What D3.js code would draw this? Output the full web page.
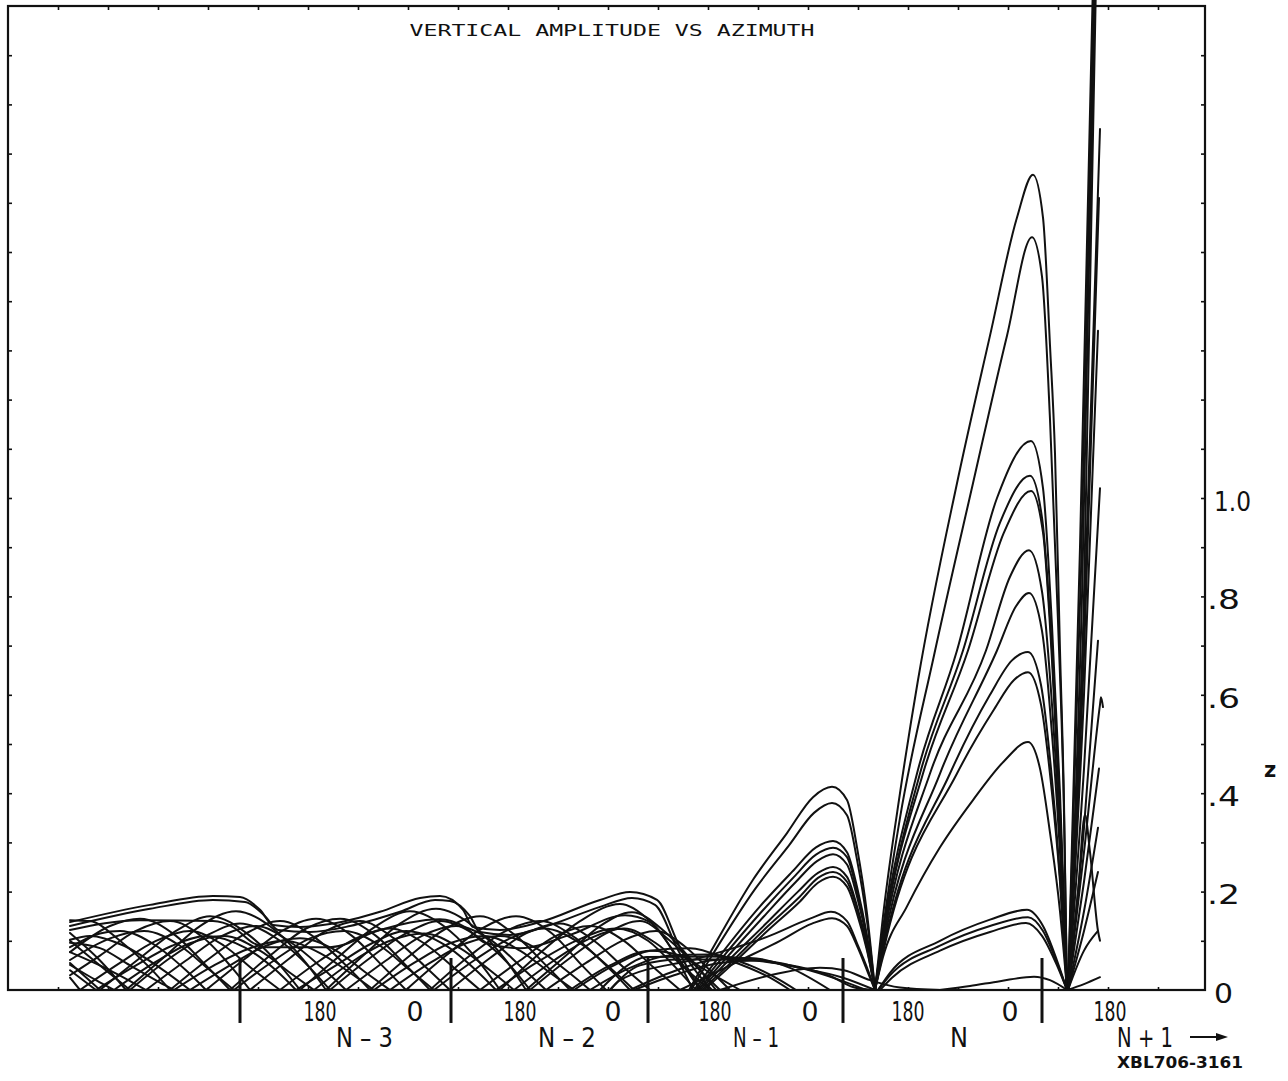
<!DOCTYPE html>
<html>
<head>
<meta charset="utf-8">
<script src="https://d3js.org/d3.v7.min.js"></script>
<style>
  body { margin: 0; background: white; }
  svg { display: block; background: white; }
  .curve { fill: none; stroke: #111; stroke-width: 2; stroke-linejoin: round; stroke-linecap: round; }
  .tick line { stroke: #111; stroke-width: 1.6; }
  .lbl { font-family: "DejaVu Sans", sans-serif; fill: #111; }
</style>
</head>
<body>
<div id="chart"></div>
<script>
var W = 1288, H = 1081;
var frame = {left: 8, right: 1205, top: 6, bottom: 990};

// x: azimuth in revolutions (one turn per section), y: vertical amplitude z
var revDomain = [0.04, 6.025];
var zDomain = [0, 2.0];

var sectionEdges = [1.20, 2.255, 3.24, 4.215, 5.21];
var label180Pos = [1.60, 2.60, 3.575, 4.54, 5.55];
var label0Pos = [2.075, 3.065, 4.05, 5.05];
var sectionNames = ["N – 3", "N – 2", "N – 1", "N", "N + 1"];
var sectionNamePos = [1.8225, 2.835, 3.78, 4.795, 5.725];
var sectionNameWidth = [57, 58, 46, 18, 56];
var zLabelValues = [0, 0.2, 0.4, 0.6, 0.8, 1.0];
var zLabels = ["0", ".2", ".4", ".6", ".8", "1.0"];

// slowly varying curves with shoulders (top of the band, N-3 .. N-2)
var envelopeCurves = [
  [[0.35,0.138],[0.75,0.173],[1.065,0.191],[1.20,0.189],[1.30,0.163],[1.365,0.132],[1.50,0.128],[1.65,0.134],[1.90,0.159],[2.10,0.187],[2.20,0.191],[2.315,0.163],[2.365,0.128],[2.50,0.122],[2.70,0.138],[3.00,0.183],[3.15,0.199],[3.285,0.183],[3.40,0.087],[3.515,0.02],[3.56,0]],
  [[0.35,0.130],[0.75,0.165],[1.065,0.183],[1.225,0.179],[1.325,0.150],[1.39,0.122],[1.55,0.118],[1.75,0.130],[2.0,0.159],[2.175,0.183],[2.25,0.181],[2.35,0.150],[2.40,0.118],[2.55,0.112],[2.75,0.132],[3.0,0.169],[3.16,0.187],[3.275,0.173],[3.39,0.081],[3.49,0.01],[3.51,0]],
  [[0.35,0.122],[0.70,0.142],[1.065,0.140],[1.165,0.128],[1.265,0.096],[1.335,0.087],[1.65,0.087],[1.90,0.122],[2.20,0.144],[2.325,0.128],[2.425,0.096],[2.60,0.085],[2.85,0.112],[3.125,0.152],[3.25,0.138],[3.375,0.071],[3.465,0]]
];

// criss-crossing arches, sections N-3 and N-2
var earlyCurves = [
  [[0.35,0.055],[0.5,0],[0.70,0.065],[0.88,0.12],[1.05,0.15],[1.25,0.11],[1.40,0.05],[1.5,0],[1.70,0.07],[1.88,0.13],[2.05,0.16],[2.25,0.12],[2.40,0.055],[2.5,0],[2.70,0.075],[2.90,0.14],[3.10,0.175],[3.25,0.14],[3.40,0.06],[3.5,0]],
  [[0.35,0.04],[0.48,0],[0.68,0.05],[0.86,0.09],[1.03,0.11],[1.23,0.085],[1.38,0.04],[1.48,0],[1.68,0.05],[1.86,0.095],[2.03,0.12],[2.23,0.09],[2.38,0.04],[2.48,0],[2.68,0.055],[2.88,0.10],[3.08,0.125],[3.24,0.10],[3.38,0.045],[3.48,0]],
  [[0.35,0.10],[0.50,0.05],[0.65,0],[0.85,0.065],[1.03,0.11],[1.20,0.135],[1.40,0.10],[1.55,0.045],[1.65,0],[1.85,0.065],[2.03,0.115],[2.20,0.14],[2.40,0.105],[2.55,0.05],[2.65,0],[2.85,0.065],[3.03,0.115],[3.20,0.14],[3.35,0.10],[3.50,0.04],[3.60,0]],
  [[0.35,0.116],[0.50,0.06],[0.63,0],[0.83,0.07],[1.0,0.13],[1.18,0.16],[1.38,0.12],[1.53,0.055],[1.63,0],[1.83,0.075],[2.0,0.135],[2.18,0.165],[2.38,0.125],[2.53,0.06],[2.63,0],[2.83,0.07],[3.0,0.13],[3.16,0.158],[3.32,0.12],[3.48,0.05],[3.58,0]],
  [[0.35,0.077],[0.55,0.13],[0.70,0.145],[0.88,0.11],[1.03,0.05],[1.15,0],[1.35,0.07],[1.53,0.125],[1.70,0.145],[1.88,0.11],[2.03,0.05],[2.15,0],[2.35,0.07],[2.53,0.12],[2.70,0.14],[2.88,0.105],[3.03,0.05],[3.15,0],[3.35,0.035],[3.55,0.06],[3.75,0.065],[3.95,0.045],[4.15,0]],
  [[0.35,0.061],[0.55,0.105],[0.72,0.12],[0.90,0.09],[1.05,0.04],[1.17,0],[1.37,0.06],[1.55,0.105],[1.72,0.12],[1.90,0.09],[2.05,0.04],[2.17,0],[2.37,0.06],[2.55,0.105],[2.72,0.125],[2.90,0.095],[3.05,0.045],[3.17,0],[3.37,0.03],[3.60,0.055],[3.80,0.06],[4.0,0.045],[4.20,0.02],[4.33,0]],
  [[0.35,0.142],[0.45,0.14],[0.60,0.10],[0.75,0.045],[0.85,0],[1.05,0.065],[1.23,0.115],[1.40,0.14],[1.58,0.105],[1.73,0.05],[1.85,0],[2.05,0.07],[2.23,0.125],[2.40,0.15],[2.58,0.11],[2.73,0.05],[2.85,0],[3.05,0.05],[3.25,0.08],[3.40,0.07],[3.55,0.035],[3.70,0]],
  [[0.35,0.096],[0.50,0.085],[0.65,0.05],[0.80,0.015],[0.87,0],[1.07,0.05],[1.25,0.085],[1.42,0.10],[1.60,0.075],[1.75,0.035],[1.87,0],[2.07,0.055],[2.25,0.095],[2.42,0.11],[2.60,0.08],[2.75,0.035],[2.87,0],[3.07,0.05],[3.25,0.08],[3.45,0.085],[3.65,0.06],[3.85,0.025],[3.95,0]],
  [[0.35,0.087],[0.50,0.115],[0.60,0.12],[0.78,0.09],[0.93,0.04],[1.03,0],[1.23,0.065],[1.41,0.12],[1.58,0.145],[1.76,0.11],[1.91,0.05],[2.03,0],[2.23,0.07],[2.41,0.125],[2.58,0.15],[2.76,0.115],[2.91,0.05],[3.03,0]],
  [[0.35,0.102],[0.45,0.11],[0.62,0.09],[0.80,0.045],[0.95,0],[1.15,0.05],[1.33,0.09],[1.50,0.105],[1.68,0.08],[1.83,0.035],[1.95,0],[2.15,0.055],[2.33,0.095],[2.50,0.11],[2.68,0.085],[2.83,0.04],[2.95,0],[3.15,0.045],[3.35,0.07],[3.55,0.072],[3.75,0.05],[3.90,0.02],[3.98,0]],
  [[0.35,0.03],[0.50,0.07],[0.68,0.12],[0.85,0.14],[1.02,0.105],[1.15,0.05],[1.25,0],[1.45,0.065],[1.63,0.12],[1.80,0.14],[1.97,0.105],[2.12,0.05],[2.25,0],[2.45,0.065],[2.63,0.115],[2.80,0.135],[2.97,0.10],[3.12,0.045],[3.25,0]],
  [[0.35,0.025],[0.40,0],[0.60,0.055],[0.78,0.10],[0.95,0.12],[1.12,0.09],[1.27,0.04],[1.40,0],[1.60,0.06],[1.78,0.105],[1.95,0.125],[2.12,0.095],[2.27,0.045],[2.40,0],[2.60,0.06],[2.78,0.11],[2.95,0.13],[3.12,0.10],[3.27,0.045],[3.40,0]],
  [[0.35,0.051],[0.48,0.02],[0.57,0],[0.77,0.055],[0.95,0.095],[1.12,0.11],[1.30,0.08],[1.45,0.035],[1.57,0],[1.77,0.06],[1.95,0.10],[2.12,0.115],[2.30,0.085],[2.45,0.04],[2.57,0],[2.77,0.06],[2.95,0.105],[3.12,0.125],[3.28,0.095],[3.45,0.035],[3.55,0]],
  [[0.35,0.077],[0.55,0.04],[0.73,0],[0.93,0.06],[1.11,0.11],[1.28,0.13],[1.46,0.095],[1.61,0.045],[1.73,0],[1.93,0.06],[2.11,0.11],[2.28,0.13],[2.46,0.10],[2.61,0.045],[2.73,0],[2.93,0.055],[3.11,0.10],[3.28,0.12],[3.42,0.09],[3.55,0.04],[3.65,0]]
];

// low, slow curves through N-1 and N
var lowCurves = [
  [[3.0,0],[3.12,0.045],[3.235,0.067],[3.55,0.068],[3.85,0.057],[4.165,0.026],[4.265,0.006],[4.36,0]],
  [[3.05,0],[3.2,0.05],[3.40,0.062],[3.70,0.062],[4.0,0.045],[4.215,0.025],[4.375,0]],
  [[3.60,0],[3.85,0.03],[4.10,0.045],[4.22,0.04],[4.35,0.02],[4.50,0.005],[4.70,0],[4.85,0.008],[5.0,0.018],[5.17,0.027],[5.25,0.02],[5.335,0],[5.42,0.012],[5.50,0.026]]
];

// section N-1
var sectionNm1Curves = [
  [[3.445,0],[3.55,0.075],[3.765,0.224],[3.935,0.319],[4.065,0.392],[4.16,0.413],[4.235,0.386],[4.285,0.29],[4.335,0.156],[4.375,0]],
  [[3.455,0],[3.56,0.07],[3.775,0.205],[3.945,0.294],[4.07,0.36],[4.16,0.38],[4.235,0.355],[4.285,0.265],[4.335,0.14],[4.375,0]],
  [[3.47,0],[3.60,0.07],[3.80,0.17],[3.96,0.24],[4.08,0.29],[4.165,0.303],[4.235,0.28],[4.285,0.21],[4.335,0.11],[4.375,0]],
  [[3.48,0],[3.61,0.065],[3.81,0.16],[3.97,0.23],[4.08,0.275],[4.165,0.289],[4.235,0.27],[4.285,0.2],[4.335,0.105],[4.375,0]],
  [[3.49,0],[3.62,0.06],[3.82,0.15],[3.98,0.22],[4.085,0.262],[4.165,0.276],[4.235,0.255],[4.285,0.19],[4.335,0.10],[4.375,0]],
  [[3.50,0],[3.63,0.055],[3.83,0.135],[3.99,0.2],[4.09,0.238],[4.165,0.25],[4.235,0.23],[4.285,0.17],[4.335,0.09],[4.375,0]],
  [[3.51,0],[3.64,0.05],[3.84,0.13],[4.0,0.19],[4.09,0.228],[4.165,0.24],[4.235,0.22],[4.285,0.165],[4.335,0.085],[4.375,0]],
  [[3.52,0],[3.65,0.048],[3.85,0.125],[4.0,0.18],[4.09,0.218],[4.165,0.23],[4.235,0.21],[4.285,0.155],[4.335,0.08],[4.375,0]],
  [[3.05,0],[3.10,0.02],[3.50,0.065],[3.835,0.108],[4.05,0.145],[4.155,0.159],[4.235,0.14],[4.29,0.09],[4.34,0.04],[4.375,0]],
  [[3.40,0],[3.50,0.02],[3.70,0.06],[3.90,0.10],[4.06,0.135],[4.16,0.146],[4.235,0.13],[4.29,0.085],[4.34,0.035],[4.375,0]]
];

// section N
var sectionNCurves = [
  [[4.375,0],[4.415,0.15],[4.5,0.40],[4.59,0.63],[4.785,1.03],[4.95,1.33],[5.085,1.57],[5.165,1.657],[5.215,1.57],[5.25,1.31],[5.275,1.09],[5.30,0.69],[5.32,0.38],[5.335,0]],
  [[4.375,0],[4.42,0.14],[4.5,0.35],[4.67,0.68],[4.865,1.03],[5.035,1.33],[5.16,1.53],[5.21,1.45],[5.25,1.16],[5.29,0.75],[5.32,0.36],[5.335,0]],
  [[4.375,0],[4.42,0.13],[4.585,0.44],[4.785,0.69],[4.985,1.0],[5.155,1.116],[5.215,1.02],[5.26,0.74],[5.30,0.40],[5.335,0]],
  [[4.375,0],[4.42,0.12],[4.60,0.44],[4.815,0.69],[5.0,0.95],[5.15,1.045],[5.21,0.96],[5.26,0.69],[5.30,0.37],[5.335,0]],
  [[4.375,0],[4.42,0.12],[4.615,0.44],[4.84,0.69],[5.02,0.93],[5.155,1.014],[5.215,0.93],[5.26,0.67],[5.30,0.36],[5.335,0]],
  [[4.375,0],[4.42,0.11],[4.65,0.44],[4.93,0.69],[5.05,0.84],[5.145,0.894],[5.21,0.81],[5.26,0.58],[5.30,0.31],[5.335,0]],
  [[4.375,0],[4.42,0.10],[4.70,0.44],[4.985,0.69],[5.08,0.78],[5.145,0.807],[5.21,0.73],[5.26,0.52],[5.30,0.28],[5.335,0]],
  [[4.375,0],[4.42,0.09],[4.75,0.44],[4.95,0.60],[5.06,0.67],[5.14,0.687],[5.205,0.62],[5.255,0.45],[5.30,0.23],[5.335,0]],
  [[4.375,0],[4.42,0.085],[4.785,0.44],[4.97,0.57],[5.07,0.63],[5.14,0.646],[5.205,0.58],[5.255,0.42],[5.30,0.22],[5.335,0]],
  [[4.375,0],[4.415,0.067],[4.535,0.17],[4.70,0.29],[4.865,0.386],[5.02,0.465],[5.14,0.504],[5.20,0.45],[5.25,0.32],[5.30,0.16],[5.335,0]],
  [[4.39,0],[4.45,0.035],[4.70,0.10],[4.95,0.143],[5.135,0.163],[5.215,0.13],[5.285,0.06],[5.335,0]],
  [[4.39,0],[4.45,0.03],[4.70,0.09],[4.95,0.13],[5.14,0.148],[5.215,0.12],[5.285,0.055],[5.335,0]],
  [[4.40,0],[4.46,0.025],[4.70,0.08],[4.95,0.118],[5.13,0.136],[5.21,0.11],[5.285,0.05],[5.335,0]]
];

// section N+1 (data ends shortly after the minimum)
var sectionNp1Curves = [
  [[5.34,0],[5.40,0.9],[5.465,2.05]],
  [[5.34,0],[5.405,0.85],[5.47,2.05]],
  [[5.34,0],[5.41,0.8],[5.475,2.05]],
  [[5.34,0],[5.42,0.8],[5.48,2.05]],
  [[5.34,0],[5.42,0.75],[5.50,1.75]],
  [[5.34,0],[5.42,0.68],[5.495,1.61]],
  [[5.34,0],[5.42,0.6],[5.49,1.34]],
  [[5.34,0],[5.42,0.45],[5.50,1.02]],
  [[5.34,0],[5.42,0.33],[5.49,0.71]],
  [[5.34,0],[5.42,0.28],[5.50,0.58],[5.505,0.595],[5.515,0.575]],
  [[5.34,0],[5.42,0.22],[5.495,0.45]],
  [[5.34,0],[5.39,0.2],[5.425,0.356],[5.45,0.28],[5.49,0.12],[5.50,0.10]],
  [[5.34,0],[5.42,0.16],[5.49,0.33]],
  [[5.34,0],[5.42,0.12],[5.49,0.24]],
  [[5.34,0],[5.42,0.08],[5.49,0.12]]
];

var x = d3.scaleLinear().domain(revDomain).range([frame.left, frame.right]);
var y = d3.scaleLinear().domain(zDomain).range([frame.bottom, frame.top]);

var svg = d3.select("#chart").append("svg")
  .attr("width", W).attr("height", H);

// split a curve at its interior zeros so each arch keeps a sharp cusp
function arches(pts) {
  var out = [], cur = [pts[0]];
  for (var i = 1; i < pts.length; i++) {
    cur.push(pts[i]);
    if (pts[i][1] === 0 && i < pts.length - 1) { out.push(cur); cur = [pts[i]]; }
  }
  if (cur.length > 1) out.push(cur);
  return out;
}

var line = d3.line()
  .x(function(d) { return x(d[0]); })
  .y(function(d) { return y(d[1]); })
  .curve(d3.curveMonotoneX);

var allCurves = [].concat(envelopeCurves, earlyCurves, lowCurves,
  sectionNm1Curves, sectionNCurves, sectionNp1Curves);
var segs = [];
allCurves.forEach(function(c) { segs = segs.concat(arches(c)); });

svg.append("g").selectAll("path")
  .data(segs)
  .enter().append("path")
  .attr("class", "curve")
  .attr("d", line);

// ticks, all pointing inward
var xTicks = d3.range(0.29, 6.0, 0.25);
var zTicks = d3.range(1, 20).map(function(k) { return k / 10; });

svg.append("g").attr("transform", "translate(0," + frame.top + ")")
  .call(d3.axisTop(x).tickValues(xTicks).tickSizeInner(-4).tickSizeOuter(0).tickFormat(""));
svg.append("g").attr("transform", "translate(0," + frame.bottom + ")")
  .call(d3.axisBottom(x).tickValues(xTicks).tickSizeInner(-3).tickSizeOuter(0).tickFormat(""));
svg.append("g").attr("transform", "translate(" + frame.left + ",0)")
  .call(d3.axisLeft(y).tickValues(zTicks).tickSizeInner(-4).tickSizeOuter(0).tickFormat(""));
svg.append("g").attr("transform", "translate(" + frame.right + ",0)")
  .call(d3.axisRight(y).tickValues(zTicks).tickSizeInner(-4).tickSizeOuter(0).tickFormat(""));
svg.selectAll(".domain").remove();

svg.append("rect")
  .attr("x", frame.left).attr("y", frame.top)
  .attr("width", frame.right - frame.left).attr("height", frame.bottom - frame.top)
  .attr("fill", "none").attr("stroke", "#111").attr("stroke-width", 2.2);

// section separators
svg.append("g").selectAll("line")
  .data(sectionEdges)
  .enter().append("line")
  .attr("x1", function(d) { return x(d); }).attr("x2", function(d) { return x(d); })
  .attr("y1", y(0.065)).attr("y2", y(-0.067))
  .attr("stroke", "#111").attr("stroke-width", 3);

// title
svg.append("text").attr("class", "lbl")
  .attr("x", 612).attr("y", 36)
  .attr("text-anchor", "middle")
  .style("font-family", "'DejaVu Sans Mono', monospace")
  .attr("font-size", 16)
  .attr("textLength", 405).attr("lengthAdjust", "spacingAndGlyphs")
  .text("VERTICAL AMPLITUDE VS AZIMUTH");

// right-hand z labels
svg.append("g").selectAll("text")
  .data(zLabelValues)
  .enter().append("text").attr("class", "lbl")
  .attr("x", function(d, i) { return zLabels[i].charAt(0) === "." ? frame.right + 2 : frame.right + 9; })
  .attr("y", function(d) { return y(d) + 3; })
  .attr("dy", "0.36em")
  .attr("font-size", 27)
  .attr("textLength", function(d, i) { return zLabels[i] === "1.0" ? 37 : (zLabels[i] === "0" ? 19 : 33); })
  .attr("lengthAdjust", "spacingAndGlyphs")
  .text(function(d, i) { return zLabels[i]; });

svg.append("text").attr("class", "lbl")
  .attr("x", 1270).attr("y", 770).attr("dy", "0.35em")
  .attr("text-anchor", "middle")
  .attr("font-size", 21).attr("font-weight", "bold")
  .text("z");

// azimuth labels under the axis
svg.append("g").selectAll("text")
  .data(label180Pos)
  .enter().append("text").attr("class", "lbl")
  .attr("x", function(d) { return x(d); })
  .attr("y", 1011).attr("dy", "0.36em")
  .attr("text-anchor", "middle").attr("font-size", 27)
  .attr("textLength", 33).attr("lengthAdjust", "spacingAndGlyphs")
  .text("180");

svg.append("g").selectAll("text")
  .data(label0Pos)
  .enter().append("text").attr("class", "lbl")
  .attr("x", function(d) { return x(d); })
  .attr("y", 1011).attr("dy", "0.36em")
  .attr("text-anchor", "middle").attr("font-size", 27)
  .attr("textLength", 17).attr("lengthAdjust", "spacingAndGlyphs")
  .text("0");

svg.append("g").selectAll("text")
  .data(sectionNamePos)
  .enter().append("text").attr("class", "lbl")
  .attr("x", function(d) { return x(d); })
  .attr("y", 1037).attr("dy", "0.36em")
  .attr("text-anchor", "middle").attr("font-size", 27)
  .attr("textLength", function(d, i) { return sectionNameWidth[i]; })
  .attr("lengthAdjust", "spacingAndGlyphs")
  .text(function(d, i) { return sectionNames[i]; });

// arrow after N+1
var ax = x(sectionNamePos[4]) + 45;
svg.append("line")
  .attr("x1", ax).attr("x2", ax + 30)
  .attr("y1", 1037).attr("y2", 1037)
  .attr("stroke", "#111").attr("stroke-width", 2);
svg.append("path")
  .attr("d", "M" + (ax + 26) + "," + 1033 + "L" + (ax + 38) + "," + 1037 + "L" + (ax + 26) + "," + 1041 + "Z")
  .attr("fill", "#111");

svg.append("text").attr("class", "lbl")
  .attr("x", 1180).attr("y", 1063).attr("dy", "0.36em")
  .attr("text-anchor", "middle")
  .attr("font-size", 15).attr("font-weight", "bold")
  .attr("textLength", 126).attr("lengthAdjust", "spacingAndGlyphs")
  .text("XBL706-3161");
</script>
</body>
</html>
